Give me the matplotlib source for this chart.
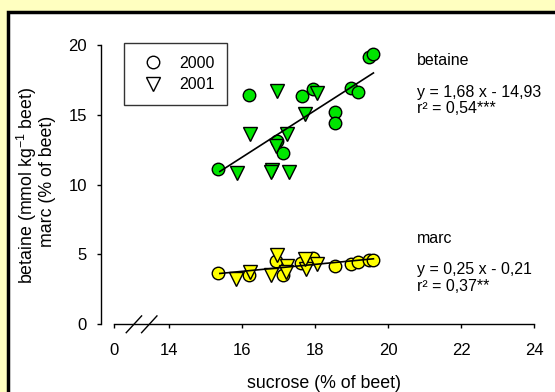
import matplotlib
matplotlib.use('Agg')
from matplotlib import pyplot as plt
from matplotlib.lines import Line2D
from matplotlib.patches import Rectangle

plt.rcParams['font.family'] = ['Liberation Sans', 'DejaVu Sans']
plt.rcParams['mathtext.fontset'] = 'custom'
plt.rcParams['mathtext.rm'] = 'Liberation Sans'
plt.rcParams['mathtext.default'] = 'regular'

# betaine (mmol/kg beet) vs sucrose (% of beet)
bet_2000_x = [15.34, 16.20, 17.66, 17.95, 16.96, 17.14, 18.54, 18.54, 18.98, 19.17, 19.47, 19.59]
bet_2000_y = [11.12, 16.41, 16.38, 16.88, 13.09, 12.26, 15.17, 14.40, 16.95, 16.64, 19.14, 19.33]
bet_2001_x = [15.87, 16.23, 16.95, 16.82, 16.80, 17.28, 17.25, 16.94, 17.74, 18.07]
bet_2001_y = [10.83, 13.62, 16.71, 11.07, 10.88, 10.90, 13.60, 12.79, 15.05, 16.55]

# marc (% of beet) vs sucrose (% of beet)
marc_2000_x = [15.34, 16.21, 16.94, 17.14, 17.62, 17.96, 18.54, 18.98, 19.17, 19.47, 19.59]
marc_2000_y = [3.64, 3.50, 4.50, 3.50, 4.40, 4.74, 4.21, 4.29, 4.45, 4.59, 4.59]
marc_2001_x = [15.85, 16.23, 16.95, 16.80, 17.25, 17.21, 17.76, 17.73, 18.05]
marc_2001_y = [3.21, 3.74, 4.93, 3.50, 4.17, 3.74, 3.93, 4.69, 4.33]

# regressions (slope, intercept, x range)
bet_fit = (1.68, -14.93)
marc_fit = (0.25, -0.21)
fit_range = [15.4, 19.6]

x_ticks = [12.5, 14, 16, 18, 20, 22, 24]
x_ticklabels = ['0', '14', '16', '18', '20', '22', '24']
y_ticks = [0, 5, 10, 15, 20]

W, H = 555, 392
fs = 11.5      # equations, legend
fs_tick = 12
fs_lab = 12.8
fig = plt.figure(figsize=(W / 100, H / 100), dpi=100)
fig.patch.set_facecolor('#ffffc0')

# white panel with thick black frame (cut off on right/bottom)
fig.patches.append(Rectangle((7.75 / W, -0.1), 1.2, 1 - 11.75 / H + 0.1,
                             transform=fig.transFigure, facecolor='white',
                             edgecolor='black', linewidth=2.5, zorder=-1))

ax = fig.add_axes([101 / W, 1 - 324.3 / H, (534.3 - 101) / W, (324.3 - 45) / H])
ax.set_zorder(2)
ax.set_facecolor('none')
ax.set_xlim(12.15, 24)
ax.set_ylim(0, 20)

green = '#00e600'
yellow = '#ffff00'
ms = 9


def fit_line(fit):
    return [fit[0] * x + fit[1] for x in fit_range]


ax.plot(fit_range, fit_line(bet_fit), color='black', lw=1.2, zorder=3)
ax.plot(fit_range, fit_line(marc_fit), color='black', lw=1.2, zorder=3)

ax.plot(bet_2000_x, bet_2000_y, 'o', ms=ms, mfc=green, mec='black', mew=1, clip_on=False, zorder=2)
ax.plot(bet_2001_x, bet_2001_y, 'v', ms=ms + 0.5, mfc=green, mec='black', mew=1, clip_on=False, zorder=2)
ax.plot(marc_2000_x, marc_2000_y, 'o', ms=ms, mfc=yellow, mec='black', mew=1, clip_on=False, zorder=2)
ax.plot(marc_2001_x, marc_2001_y, 'v', ms=ms + 0.5, mfc=yellow, mec='black', mew=1, clip_on=False, zorder=2)

for s in ['top', 'right']:
    ax.spines[s].set_visible(False)
ax.spines['left'].set_bounds(0, 20)
ax.spines['bottom'].set_bounds(12.5, 24)
for s in ['left', 'bottom']:
    ax.spines[s].set_linewidth(1.0)

ax.set_xticks(x_ticks)
ax.set_xticklabels(x_ticklabels)
ax.set_yticks(y_ticks)
ax.tick_params(axis='both', direction='out', length=3, width=1.0, labelsize=fs_tick)
ax.tick_params(axis='x', pad=10.5)
ax.tick_params(axis='y', pad=7)

# axis break marks
for xc in [13.05, 13.47]:
    ax.plot([xc - 0.21, xc + 0.21], [-0.6, 0.6], color='black', lw=1.0, clip_on=False)

# axis labels
fig.text(27 / W, 1 - 185 / H, 'betaine (mmol kg$^{-1}$ beet)', rotation=90,
         ha='center', va='center', fontsize=fs_lab)
fig.text(47 / W, 1 - 181.5 / H, 'marc (% of beet)', rotation=90,
         ha='center', va='center', fontsize=fs_lab)
fig.text(324 / W, 1 - 383 / H, 'sucrose (% of beet)', ha='center', va='center', fontsize=fs_lab)


# equations
def put(x, y, s):
    fig.text(x / W, 1 - y / H, s, ha='left', va='baseline', fontsize=fs)


put(416.7, 65, 'betaine')
put(416.7, 96.7, 'y = 1,68 x - 14,93')
put(416.7, 113.3, 'r² = 0,54***')
put(416.7, 243.3, 'marc')
put(416.7, 274, 'y = 0,25 x - 0,21')
put(416.7, 290.7, 'r² = 0,37**')

handles = [
    Line2D([], [], marker='o', ls='none', ms=ms, mfc='white', mec='black', mew=1),
    Line2D([], [], marker='v', ls='none', ms=ms + 0.5, mfc='white', mec='black', mew=1),
]
leg = ax.legend(handles, ['2000', '2001'], loc='upper left',
                bbox_to_anchor=(124 / W, 1 - 43 / H), bbox_transform=fig.transFigure,
                borderaxespad=0, fancybox=False, fontsize=fs, frameon=True,
                borderpad=0.8, handlelength=2.0, handletextpad=0.65, labelspacing=0.4)
leg.get_frame().set_edgecolor('black')
leg.get_frame().set_linewidth(1.0)

fig.savefig('out.png', dpi=100, facecolor=fig.get_facecolor())
